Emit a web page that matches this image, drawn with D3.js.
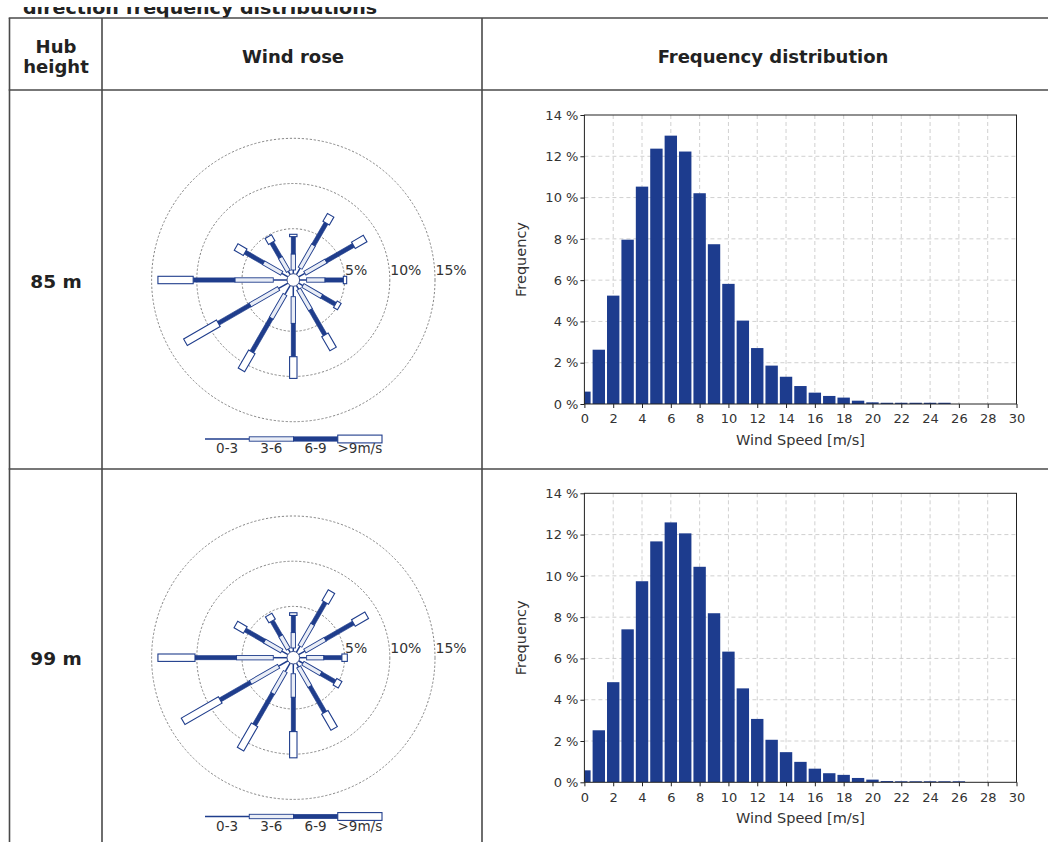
<!DOCTYPE html>
<html><head><meta charset="utf-8">
<script src="https://cdn.jsdelivr.net/npm/d3@7"></script>
<style>
html,body{margin:0;padding:0;background:#fff;}
svg{display:block;font-family:"DejaVu Sans",Verdana,sans-serif;}
</style></head><body>
<svg id="chart" width="1048" height="842"></svg>
<script>
// ---------- data ----------
const hubHeights = ["85 m", "99 m"];
const windSpeeds = [0,1,2,3,4,5,6,7,8,9,10,11,12,13,14,15,16,17,18,19,20,21,22,23,24,25,26,27,28,29];
const freq85 = [0.60,2.63,5.25,7.96,10.53,12.37,13.00,12.23,10.21,7.74,5.82,4.04,2.71,1.86,1.32,0.87,0.55,0.39,0.31,0.16,0.08,0.06,0.06,0.06,0.06,0.06,0,0,0,0];
const freq99 = [0.58,2.52,4.85,7.41,9.74,11.67,12.59,12.06,10.44,8.19,6.33,4.55,3.07,2.06,1.46,0.99,0.66,0.44,0.36,0.21,0.13,0.06,0.05,0.05,0.05,0.05,0.05,0,0,0];
const xTicks = [0,2,4,6,8,10,12,14,16,18,20,22,24,26,28,30];
const yTicks = [0,2,4,6,8,10,12,14];

const directions = [0,30,60,90,120,150,180,210,240,270,300,330];
const speedClasses = ["0-3","3-6","6-9",">9m/s"];
const ringLevels = [5,10,15];
// wind rose 85 m (percent per speed class, per direction)
const rose85_0_3 = [0.43,0.84,0.80,0.80,0.55,0.50,1.17,1.17,1.20,1.54,0.80,0.43];
const rose85_3_6 = [1.77,2.95,2.70,2.03,2.40,2.63,2.95,3.03,3.65,4.24,2.33,1.77];
const rose85_6_9 = [1.92,2.80,3.50,2.03,1.75,3.20,3.69,4.30,4.05,4.62,2.35,1.90];
const rose85_gt9 = [0.26,1.00,1.50,0.37,0.50,1.80,2.40,2.30,4.20,3.90,1.15,0.76];
// wind rose 99 m
const rose99_0_3 = [0.40,0.80,0.80,0.80,0.55,0.50,1.10,1.10,1.20,1.54,0.80,0.43];
const rose99_3_6 = [1.70,2.80,2.60,1.90,2.30,2.50,2.60,2.80,3.60,4.06,2.20,1.70];
const rose99_6_9 = [1.90,2.80,3.60,2.00,1.80,3.30,3.80,4.00,3.86,4.60,2.46,1.88];
const rose99_gt9 = [0.30,1.37,1.70,0.60,0.65,2.06,2.90,3.10,4.74,4.10,1.20,0.77];

// ---------- style ----------
const BLUE = "#1f3d8c";
const BAR = "#1d3c8e";
const LIGHT = "#e9edf6";
const LINE = "#4a4a4a";
const TXT = "#222";

const svg = d3.select("#chart");

// partial title at top (cut off, as in the source page)
svg.append("clipPath").attr("id", "titleClip").append("rect")
  .attr("x", 0).attr("y", 7).attr("width", 1048).attr("height", 12);
svg.append("text").attr("x", 23).attr("y", 14).attr("clip-path", "url(#titleClip)")
  .attr("font-size", 18).attr("font-weight", "bold").attr("fill", TXT)
  .attr("textLength", 354).attr("lengthAdjust", "spacingAndGlyphs")
  .text("direction frequency distributions");

// ---------- table ----------
const T = {left: 9.5, c1: 102, c2: 482, right: 1048, top: 18, head: 90, row: 469, bottom: 842};
const tg = svg.append("g").attr("stroke", LINE).attr("stroke-width", 1.6);
[T.top, T.head, T.row].forEach(y => tg.append("line").attr("x1", T.left - 0.8).attr("x2", T.right).attr("y1", y).attr("y2", y));
[T.left, T.c1, T.c2].forEach(x => tg.append("line").attr("x1", x).attr("x2", x).attr("y1", T.top).attr("y2", T.bottom));

const hdr = svg.append("g").attr("font-weight", "bold").attr("font-size", 18).attr("fill", TXT).attr("text-anchor", "middle");
hdr.append("text").attr("x", 56).attr("y", 53).text("Hub");
hdr.append("text").attr("x", 56).attr("y", 73).text("height");
hdr.append("text").attr("x", 293).attr("y", 63).text("Wind rose");
hdr.append("text").attr("x", 773).attr("y", 63).text("Frequency distribution");

// ---------- wind rose ----------
const rScale = d3.scaleLinear().domain([0, 15]).range([6.1, 141.7]);

function drawRose(cx, cy, c03, c36, c69, cgt9) {
  const g = svg.append("g");
  ringLevels.forEach(p => {
    g.append("circle").attr("cx", cx).attr("cy", cy).attr("r", rScale(p))
      .attr("fill", "none").attr("stroke", "#777").attr("stroke-width", 0.9)
      .attr("stroke-dasharray", "2.2,1.8");
    g.append("text").attr("x", cx + rScale(p) + 0.5).attr("y", cy - 5)
      .attr("font-size", 14).attr("fill", "#333").text(p + "%");
  });
  directions.forEach((dir, i) => {
    const c1 = c03[i], c2 = c1 + c36[i], c3 = c2 + c69[i], c4 = c3 + cgt9[i];
    const s = g.append("g").attr("transform", `translate(${cx},${cy}) rotate(${dir})`);
    s.append("line").attr("x1", 0).attr("x2", 0)
      .attr("y1", -rScale(0)).attr("y2", -rScale(c1))
      .attr("stroke", BLUE).attr("stroke-width", 1.5);
    s.append("rect").attr("x", -2.2).attr("width", 4.4)
      .attr("y", -rScale(c2)).attr("height", rScale(c2) - rScale(c1))
      .attr("fill", LIGHT).attr("stroke", BLUE).attr("stroke-width", 0.9);
    s.append("rect").attr("x", -2.1).attr("width", 4.2)
      .attr("y", -rScale(c3)).attr("height", rScale(c3) - rScale(c2))
      .attr("fill", BLUE).attr("stroke", BLUE).attr("stroke-width", 0.6);
    s.append("rect").attr("x", -3.7).attr("width", 7.4)
      .attr("y", -rScale(c4)).attr("height", rScale(c4) - rScale(c3))
      .attr("fill", "#fff").attr("stroke", BLUE).attr("stroke-width", 1.1);
  });
  g.append("circle").attr("cx", cx).attr("cy", cy).attr("r", 6.3)
    .attr("fill", "#fff").attr("stroke", "#3b4f8a").attr("stroke-width", 1);
}

function drawRoseLegend(ly) {
  const band = d3.scaleBand().domain(speedClasses).range([205, 382]);
  const g = svg.append("g");
  const w = band.bandwidth();
  g.append("line").attr("x1", band("0-3")).attr("x2", band("0-3") + w)
    .attr("y1", ly).attr("y2", ly).attr("stroke", BLUE).attr("stroke-width", 1.5);
  g.append("rect").attr("x", band("3-6")).attr("width", w).attr("y", ly - 2.2).attr("height", 4.4)
    .attr("fill", LIGHT).attr("stroke", BLUE).attr("stroke-width", 0.9);
  g.append("rect").attr("x", band("6-9")).attr("width", w).attr("y", ly - 2.2).attr("height", 4.4)
    .attr("fill", BLUE).attr("stroke", BLUE).attr("stroke-width", 0.6);
  g.append("rect").attr("x", band(">9m/s")).attr("width", w).attr("y", ly - 3.9).attr("height", 7.8)
    .attr("fill", "#fff").attr("stroke", BLUE).attr("stroke-width", 1.1);
  speedClasses.forEach(c => {
    g.append("text").attr("x", band(c) + w / 2).attr("y", ly + 14).attr("text-anchor", "middle")
      .attr("font-size", 13.5).attr("fill", "#333").text(c);
  });
}

// ---------- histogram ----------
const xScale = d3.scaleLinear().domain([0, 30]).range([584.4, 1016.5]);
const PLOT_H = 289;

function drawHist(top, data, id) {
  const bottom = top + PLOT_H;
  const y = d3.scaleLinear().domain([0, 14]).range([bottom, top]);
  const g = svg.append("g");
  xTicks.slice(1, -1).forEach(t => g.append("line").attr("x1", xScale(t)).attr("x2", xScale(t))
    .attr("y1", top).attr("y2", bottom).attr("stroke", "#c4c4c4").attr("stroke-width", 0.8).attr("stroke-dasharray", "4,3"));
  yTicks.slice(1, -1).forEach(t => g.append("line").attr("x1", xScale(0)).attr("x2", xScale(30))
    .attr("y1", y(t)).attr("y2", y(t)).attr("stroke", "#c4c4c4").attr("stroke-width", 0.8).attr("stroke-dasharray", "4,3"));
  svg.append("clipPath").attr("id", id).append("rect")
    .attr("x", xScale(0)).attr("y", top).attr("width", xScale(30) - xScale(0)).attr("height", PLOT_H);
  g.append("g").attr("clip-path", `url(#${id})`).selectAll("rect").data(windSpeeds).join("rect")
    .attr("x", d => xScale(d - 0.43)).attr("width", xScale(0.86) - xScale(0))
    .attr("y", (d, i) => y(data[i])).attr("height", (d, i) => y(0) - y(data[i]))
    .attr("fill", BAR);
  g.append("rect").attr("x", xScale(0)).attr("y", top).attr("width", xScale(30) - xScale(0)).attr("height", PLOT_H)
    .attr("fill", "none").attr("stroke", "#222").attr("stroke-width", 1);
  const ax = g.append("g").attr("transform", `translate(0,${bottom})`)
    .call(d3.axisBottom(xScale).tickValues(xTicks).tickSize(4).tickPadding(6).tickFormat(d3.format("d")));
  const ay = g.append("g").attr("transform", `translate(${xScale(0)},0)`)
    .call(d3.axisLeft(y).tickValues(yTicks).tickSize(4).tickPadding(2).tickFormat(d => d + " %"));
  [ax, ay].forEach(a => {
    a.select(".domain").remove();
    a.selectAll("line").attr("stroke", "#222");
    a.selectAll("text").attr("font-size", 13).attr("fill", "#333").attr("font-family", "DejaVu Sans, Verdana, sans-serif");
  });
  g.append("text").attr("x", (xScale(0) + xScale(30)) / 2).attr("y", bottom + 41)
    .attr("text-anchor", "middle").attr("font-size", 14.5).attr("fill", "#333").text("Wind Speed [m/s]");
  g.append("text").attr("transform", `translate(526,${(top + bottom) / 2}) rotate(-90)`)
    .attr("text-anchor", "middle").attr("font-size", 14.5).attr("fill", "#333").text("Frequency");
}

// ---------- rows ----------
const rowLabel = svg.append("g").attr("font-weight", "bold").attr("font-size", 18.5).attr("fill", TXT).attr("text-anchor", "middle");
rowLabel.append("text").attr("x", 56).attr("y", 288).text(hubHeights[0]);
rowLabel.append("text").attr("x", 56).attr("y", 665).text(hubHeights[1]);

drawRose(293.3, 280, rose85_0_3, rose85_3_6, rose85_6_9, rose85_gt9);
drawRoseLegend(439);
drawRose(293.3, 657.7, rose99_0_3, rose99_3_6, rose99_6_9, rose99_gt9);
drawRoseLegend(816.5);

drawHist(115, freq85, "clip85");
drawHist(493.3, freq99, "clip99");
</script>
</body></html>
